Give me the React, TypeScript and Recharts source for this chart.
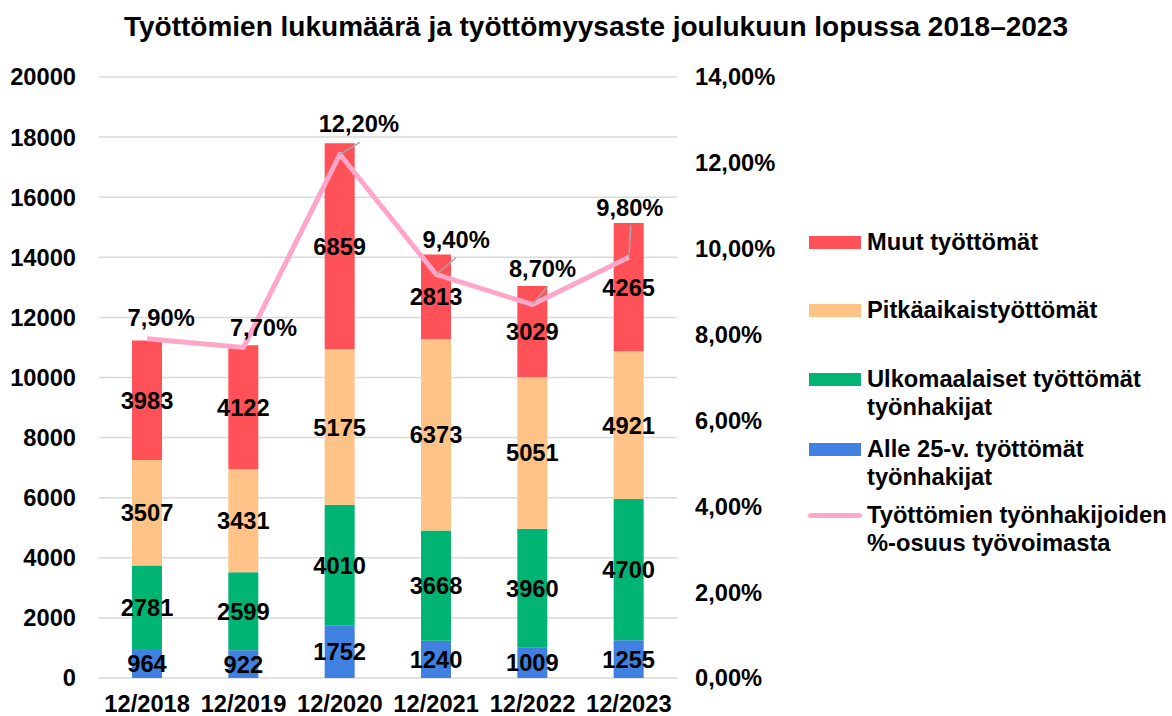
import { ComposedChart, Bar, Line, XAxis, YAxis, CartesianGrid, LabelList } from "recharts";

const categories = ["12/2018", "12/2019", "12/2020", "12/2021", "12/2022", "12/2023"];
const alle25 = [964, 922, 1752, 1240, 1009, 1255];
const ulkomaalaiset = [2781, 2599, 4010, 3668, 3960, 4700];
const pitkaaikaiset = [3507, 3431, 5175, 6373, 5051, 4921];
const muut = [3983, 4122, 6859, 2813, 3029, 4265];
const rate = [7.9, 7.7, 12.2, 9.4, 8.7, 9.8];

const leftTicks = [0, 2000, 4000, 6000, 8000, 10000, 12000, 14000, 16000, 18000, 20000];
const rightTicks = [0, 2, 4, 6, 8, 10, 12, 14];

const COLORS = {
  alle25: "#3F80E0",
  ulkomaalaiset: "#00B574",
  pitkaaikaiset: "#FFC387",
  muut: "#FF5157",
  rate: "#FFA6C9",
};

const FONT = '"Liberation Sans", Arial, sans-serif';
const FS = 23.7;

const data = categories.map((name, i) => ({
  name,
  alle25: alle25[i],
  ulkomaalaiset: ulkomaalaiset[i],
  pitkaaikaiset: pitkaaikaiset[i],
  muut: muut[i],
  rate: rate[i],
}));

const fmtPct = (v: number) => v.toFixed(2).replace(".", ",") + "%";

// label placement of the % labels relative to their point (Excel had moved them by hand)
const rateLabelOffset = [
  [14, -21],
  [20, -19],
  [19, -30],
  [20, -34],
  [10, -36],
  [1, -49],
];
const leaderEnd: (number[] | null)[] = [null, null, [20, -12], [20, -17], [15, -18], [2, -32]];

const RateLabel = (props: any) => {
  const { x, y, value, index } = props;
  const [dx, dy] = rateLabelOffset[index];
  const lead = leaderEnd[index];
  return (
    <g>
      {lead && (
        <line x1={x} y1={y} x2={x + lead[0]} y2={y + lead[1]} stroke="#A6A6A6" strokeWidth={1.5} />
      )}
      <text
        x={x + dx}
        y={y + dy}
        textAnchor="middle"
        dominantBaseline="central"
        fill="#000"
        fontSize={FS}
        fontWeight={700}
        fontFamily={FONT}
      >
        {fmtPct(value)}
      </text>
    </g>
  );
};

const legendItems = [
  { label: ["Muut työttömät"], color: COLORS.muut, top: 228, line: false },
  { label: ["Pitkäaikaistyöttömät"], color: COLORS.pitkaaikaiset, top: 296, line: false },
  { label: ["Ulkomaalaiset työttömät", "työnhakijat"], color: COLORS.ulkomaalaiset, top: 365, line: false },
  { label: ["Alle 25-v. työttömät", "työnhakijat"], color: COLORS.alle25, top: 435, line: false },
  { label: ["Työttömien työnhakijoiden", "%-osuus työvoimasta"], color: COLORS.rate, top: 501, line: true },
];

const barLabel = { fill: "#000", fontSize: FS, fontWeight: 700, fontFamily: FONT };
const tickStyle = { fill: "#000", fontSize: FS, fontWeight: 700, fontFamily: FONT };

export default function App() {
  return (
    <div style={{ position: "absolute", left: 0, top: 0, width: 1172, height: 716, background: "#fff", fontFamily: FONT }}>
      <div
        style={{
          position: "absolute",
          left: 0,
          top: 13,
          width: 1192,
          textAlign: "center",
          fontSize: 28,
          lineHeight: "28px",
          fontWeight: 700,
          color: "#000",
          whiteSpace: "nowrap",
        }}
      >
        Työttömien lukumäärä ja työttömyysaste joulukuun lopussa 2018–2023
      </div>

      <ComposedChart
        width={1172}
        height={716}
        data={data}
        margin={{ top: 77, right: 0, bottom: 0, left: 0 }}
        style={{ position: "absolute", left: 0, top: 0 }}
      >
        <CartesianGrid vertical={false} stroke="#D9D9D9" strokeWidth={1.5} yAxisId="left" />
        <XAxis
          dataKey="name"
          height={38}
          axisLine={false}
          tickLine={false}
          tickSize={0}
          tickMargin={17}
          tick={tickStyle}
          interval={0}
        />
        <YAxis
          yAxisId="left"
          width={99}
          domain={[0, 20000]}
          ticks={leftTicks}
          axisLine={false}
          tickLine={false}
          tickSize={0}
          tickMargin={23}
          tick={tickStyle}
          interval={0}
        />
        <YAxis
          yAxisId="right"
          orientation="right"
          width={495}
          domain={[0, 14]}
          ticks={rightTicks}
          axisLine={false}
          tickLine={false}
          tickSize={0}
          tickMargin={18}
          tick={{ ...tickStyle, textAnchor: "start" }}
          tickFormatter={fmtPct}
          interval={0}
        />
        <Bar dataKey="alle25" stackId="a" yAxisId="left" fill={COLORS.alle25} barSize={30} isAnimationActive={false}>
          <LabelList dataKey="alle25" position="center" style={barLabel} />
        </Bar>
        <Bar dataKey="ulkomaalaiset" stackId="a" yAxisId="left" fill={COLORS.ulkomaalaiset} barSize={30} isAnimationActive={false}>
          <LabelList dataKey="ulkomaalaiset" position="center" style={barLabel} />
        </Bar>
        <Bar dataKey="pitkaaikaiset" stackId="a" yAxisId="left" fill={COLORS.pitkaaikaiset} barSize={30} isAnimationActive={false}>
          <LabelList dataKey="pitkaaikaiset" position="center" style={barLabel} />
        </Bar>
        <Bar dataKey="muut" stackId="a" yAxisId="left" fill={COLORS.muut} barSize={30} isAnimationActive={false}>
          <LabelList dataKey="muut" position="center" style={barLabel} />
        </Bar>
        <Line
          dataKey="rate"
          yAxisId="right"
          type="linear"
          stroke={COLORS.rate}
          strokeWidth={5}
          strokeLinejoin="round"
          dot={false}
          activeDot={false}
          isAnimationActive={false}
        >
          <LabelList dataKey="rate" content={RateLabel} />
        </Line>
      </ComposedChart>

      {legendItems.map((item) => (
        <div key={item.label[0]} style={{ position: "absolute", left: 0, top: item.top, width: 1172 }}>
          <div
            style={
              item.line
                ? { position: "absolute", left: 808, top: 12, width: 54, height: 5, borderRadius: 3, background: item.color }
                : { position: "absolute", left: 809, top: 8, width: 52, height: 13, background: item.color }
            }
          />
          <div
            style={{
              position: "absolute",
              left: 867,
              top: 0,
              fontSize: FS,
              lineHeight: "28px",
              fontWeight: 700,
              color: "#000",
              whiteSpace: "nowrap",
            }}
          >
            {item.label.map((l) => (
              <div key={l}>{l}</div>
            ))}
          </div>
        </div>
      ))}
    </div>
  );
}
